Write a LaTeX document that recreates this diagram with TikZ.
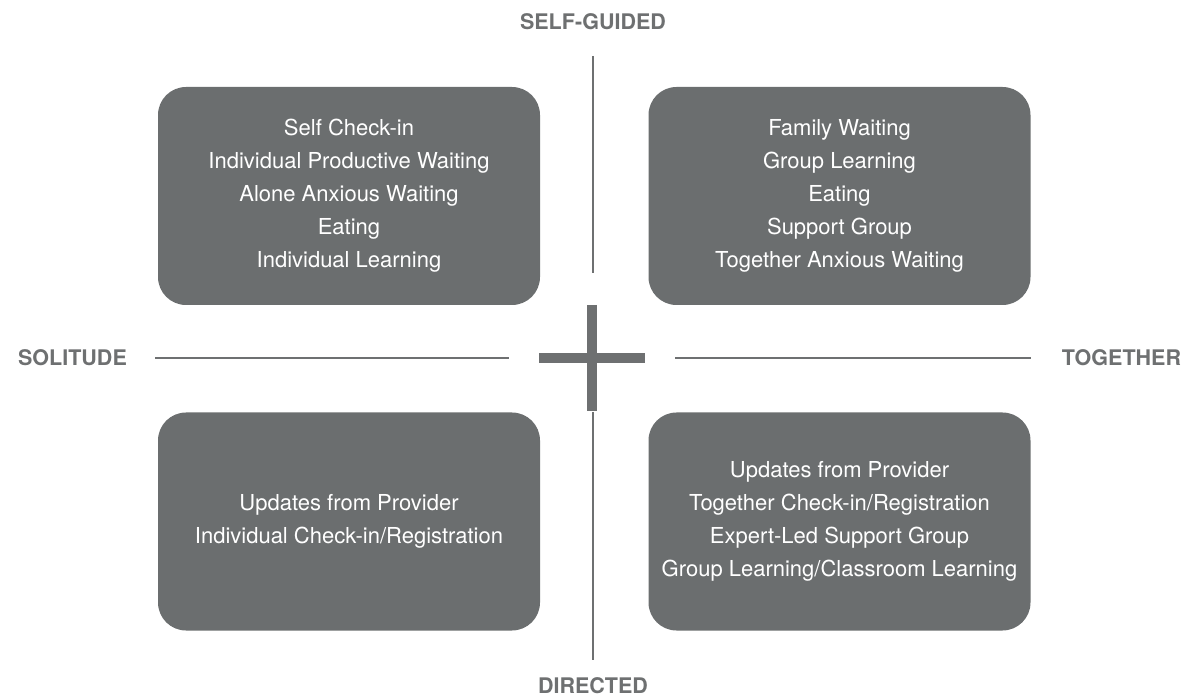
\documentclass[tikz,border=0pt]{standalone}
\usepackage{fontspec}
\setmainfont{TeX Gyre Heros}
\definecolor{quadgrey}{HTML}{6B6E6F}
\definecolor{axisgrey}{HTML}{6E7071}
\tikzset{
  quad/.style={fill=quadgrey, rounded corners=28pt, minimum width=382pt,
    minimum height=218pt, inner sep=0pt, text=white, align=center,
    font=\fontsize{22}{33}\selectfont},
  axislabel/.style={text=axisgrey, font=\fontsize{21.5}{24}\selectfont\bfseries, inner sep=0pt},
  axisline/.style={draw=axisgrey, line width=2.6pt},
  crossbar/.style={draw=axisgrey, line width=10pt}
}
\begin{document}
\begin{tikzpicture}[x=1pt,y=-1pt]
  \useasboundingbox (0,0) rectangle (1187,700);
  % quadrants
  \node[quad] (selfalone) at (349,196) {Self Check-in\\Individual Productive Waiting\\Alone Anxious Waiting\\Eating\\Individual Learning};
  \node[quad] (selfgroup) at (839.5,196) {Family Waiting\\Group Learning\\Eating\\Support Group\\Together Anxious Waiting};
  \node[quad] (diralone) at (349,521.5) {Updates from Provider\\Individual Check-in/Registration};
  \node[quad] (dirgroup) at (839.5,521.5) {Updates from Provider\\Together Check-in/Registration\\Expert-Led Support Group\\Group Learning/Classroom Learning};
  % axis labels
  \node[axislabel] (top) at (593,22) {SELF-GUIDED};
  \node[axislabel] (bottom) at (593,686) {DIRECTED};
  \node[axislabel] (left) at (72.5,358) {SOLITUDE};
  \node[axislabel] (right) at (1121.5,358) {TOGETHER};
  % axis ends
  \coordinate (t1) at (593,56);
  \coordinate (t2) at (593,273);
  \coordinate (b1) at (593,412);
  \coordinate (b2) at (593,660);
  \coordinate (l1) at (155,358);
  \coordinate (l2) at (509,358);
  \coordinate (r1) at (675,358);
  \coordinate (r2) at (1031,358);
  \coordinate (cl) at (539,358);
  \coordinate (cr) at (645,358);
  \coordinate (ct) at (592,305);
  \coordinate (cb) at (592,411);
  \begin{scope}[axisline]
    \draw (t1) -- (t2);
    \draw (b1) -- (b2);
    \draw (l1) -- (l2);
    \draw (r1) -- (r2);
  \end{scope}
  \draw[crossbar] (cl) -- (cr);
  \draw[crossbar] (ct) -- (cb);
\end{tikzpicture}
\end{document}
